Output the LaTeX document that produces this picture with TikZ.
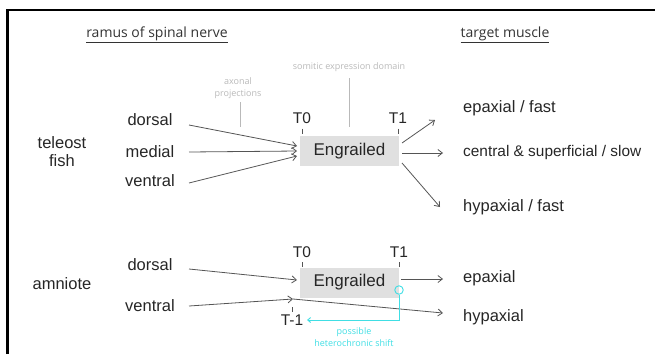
\documentclass[tikz,border=0pt]{standalone}
\usepackage{fontspec}
\setmainfont{Liberation Sans}
\newfontfamily\annfont{Open Sans}
\usetikzlibrary{arrows.meta}
\definecolor{arrowgray}{RGB}{85,85,85}
\definecolor{anngray}{RGB}{185,185,185}
\definecolor{boxgray}{RGB}{224,224,224}
\definecolor{shiftcyan}{RGB}{64,222,228}
\begin{document}
\begin{tikzpicture}[x=1pt,y=-1pt,
  lbl/.style={inner sep=0pt,font=\fontsize{16.5}{18}\selectfont,text=black!85},
  tlbl/.style={inner sep=0pt,font=\fontsize{15.5}{17}\selectfont,text=black!85},
  head/.style={inner sep=0pt,font=\annfont\fontsize{14}{16}\selectfont,text=black!80},
  ann/.style={inner sep=0pt,align=center,font=\annfont\fontsize{9}{12}\selectfont,text=anngray},
  cyanann/.style={inner sep=0pt,align=center,font=\annfont\fontsize{9}{12.5}\selectfont,text=shiftcyan},
  engbox/.style={fill=boxgray,minimum width=99pt,minimum height=30pt,inner sep=0pt,font=\fontsize{17}{19}\selectfont,text=black!85},
  conn/.style={draw=arrowgray,line width=0.8pt,-{Straight Barb[length=4.5pt,width=7pt,line width=0.8pt]}},
  tick/.style={draw=arrowgray,line width=0.8pt},
  annline/.style={draw=anngray,line width=0.8pt},
  cyanline/.style={draw=shiftcyan,line width=0.9pt},
]
\useasboundingbox (0,0) rectangle (655,354);
% frame
\draw[line width=2.2pt] (7.5,354) -- (7.5,10) -- (655,10);

% headers
\node[head] (hramus) at (157,35) {\underline{ramus of spinal nerve}};
\node[head] (htarget) at (505,35) {\underline{target muscle}};

% annotations
\node[ann] (somitic) at (349,67) {somitic expression domain};
\node[ann] (axonal) at (238,88) {axonal\\projections};
\coordinate (somA) at (349,78);
\coordinate (somB) at (349,127);
\draw[annline] (somA) -- (somB);
\coordinate (axA) at (240,102);
\coordinate (axB) at (240,127);
\draw[annline] (axA) -- (axB);

% ---------------- teleost fish ----------------
\node[lbl,align=center] (teleost) at (62,152) {teleost\\fish};
\node[lbl] (tdorsal) at (150,120) {dorsal};
\node[lbl] (tmedial) at (150,152) {medial};
\node[lbl] (tventral) at (150,181) {ventral};

\node[engbox] (eng1) at (349.5,151) {Engrailed};
\node[tlbl] (t0a) at (302,118) {T0};
\node[tlbl] (t1a) at (398,118) {T1};
\draw[tick] (302,128.5) -- (302,133.5);
\draw[tick] (398,128.5) -- (398,133.5);

\coordinate (tdS) at (189,125);
\coordinate (tmS) at (189,152);
\coordinate (tvS) at (189,183);
\coordinate (tdE) at (297,146);
\coordinate (tmE) at (297,151);
\coordinate (tvE) at (297,156);
\draw[conn] (tdS) -- (tdE);
\draw[conn] (tmS) -- (tmE);
\draw[conn] (tvS) -- (tvE);

\node[lbl,anchor=west] (epafast) at (463,108) {epaxial / fast};
\node[lbl,anchor=west,font=\fontsize{15.4}{18}\selectfont] (central) at (463,153) {central \& superficial / slow};
\node[lbl,anchor=west] (hypfast) at (463,207) {hypaxial / fast};

\coordinate (o1S) at (402,143);
\coordinate (o1E) at (435,120);
\coordinate (o2S) at (402,153);
\coordinate (o2E) at (443,153);
\coordinate (o3S) at (402,163);
\coordinate (o3E) at (440,207);
\draw[conn] (o1S) -- (o1E);
\draw[conn] (o2S) -- (o2E);
\draw[conn] (o3S) -- (o3E);

% ---------------- amniote ----------------
\node[lbl] (amniote) at (62,284) {amniote};
\node[lbl] (adorsal) at (150,265) {dorsal};
\node[lbl] (aventral) at (150,306) {ventral};

\node[engbox] (eng2) at (349.5,282.5) {Engrailed};
\node[tlbl] (t0b) at (302,252) {T0};
\node[tlbl] (t1b) at (399,252) {T1};
\draw[tick] (302,262) -- (302,267);
\draw[tick] (399,262) -- (399,267);

\coordinate (adS) at (189,269);
\coordinate (adE) at (297,280);
\draw[conn] (adS) -- (adE);
\coordinate (avS) at (189,306);
\coordinate (avM) at (293,299);
\coordinate (avE) at (443,313);
\draw[conn] (avS) -- (avM);
\draw[conn] (avM) -- (avE);

\node[lbl,anchor=west] (epax) at (463,278) {epaxial};
\node[lbl,anchor=west] (hypax) at (463,317) {hypaxial};
\coordinate (aoS) at (401,279);
\coordinate (aoE) at (443,279);
\draw[conn] (aoS) -- (aoE);

% T-1 and heterochronic shift
\draw[tick] (292,307) -- (292,312);
\node[tlbl] (tm1) at (292,320) {T-1};
\node[cyanline,circle,minimum size=8.5pt,inner sep=0pt] (circ) at (399,290) {};
\coordinate (shiftCorner) at (399,320);
\coordinate (shiftEnd) at (307,320);
\draw[cyanline,-{Straight Barb[length=3pt,width=5pt,line width=0.9pt]}] (circ.south) -- (shiftCorner) -- (shiftEnd);
\node[cyanann] (shift) at (354,337) {possible\\heterochronic shift};
\end{tikzpicture}
\end{document}
